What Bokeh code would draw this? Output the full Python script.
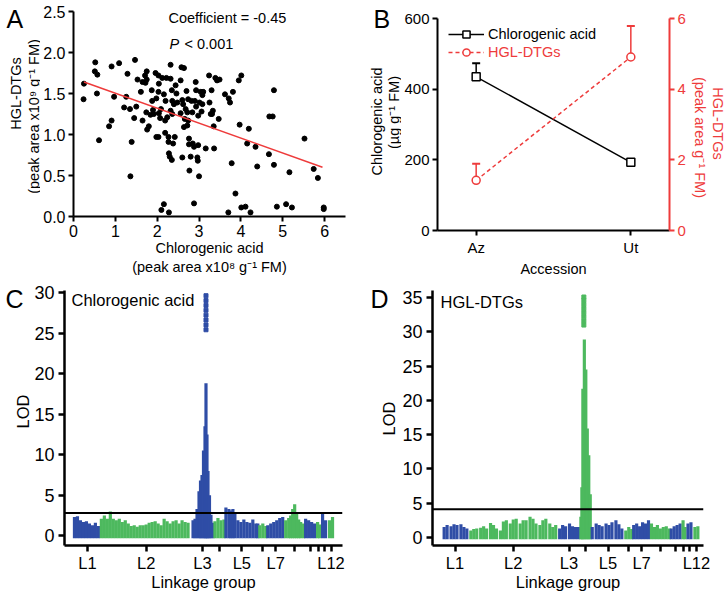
import math
import numpy as np
from bokeh.plotting import figure
from bokeh.models import (Range1d, LinearAxis, FixedTicker, Label, Span, Legend, LegendItem,
                          PrintfTickFormatter, CustomJSTickFormatter)
from bokeh.layouts import row, column
from bokeh.embed import file_html
from bokeh.resources import INLINE

FONT = "Liberation Sans"
BLUE = "#2F4DA6"
GREEN = "#4DB95E"
RED = "#EE3B3B"

# ---------------- Panel A data: scatter ----------------
chlorogenic_area = [
    0.25, 0.24, 0.52, 0.51, 0.57, 0.56, 0.61, 0.91, 0.85, 0.91,
    0.97, 1.09, 1.29, 1.26, 1.21, 1.35, 1.36, 1.39, 1.47, 1.45,
    1.50, 1.53, 1.61, 1.65, 1.65, 1.71, 1.72, 1.75, 1.75, 1.74,
    1.76, 1.80, 1.84, 1.87, 1.88, 1.90, 1.92, 1.96, 1.98, 1.98,
    2.03, 2.03, 2.04, 2.03, 2.04, 2.07, 2.09, 2.10, 2.16, 2.16,
    2.12, 2.20, 2.22, 2.19, 2.19, 2.24, 2.27, 2.27, 2.28, 2.30,
    2.28, 2.32, 2.32, 2.35, 2.36, 2.32, 2.36, 2.38, 2.35, 2.40,
    2.42, 2.44, 2.46, 2.48, 2.56, 2.56, 2.58, 2.60, 2.64, 2.60,
    2.62, 2.64, 2.66, 2.68, 2.70, 2.72, 2.74, 2.74, 2.72, 2.76,
    2.76, 2.77, 2.80, 2.82, 2.84, 2.85, 2.88, 2.88, 2.90, 2.92,
    2.93, 2.93, 2.96, 2.97, 2.98, 2.98, 3.00, 3.01, 3.04, 3.06,
    3.08, 3.08, 3.10, 3.16, 3.24, 3.25, 3.28, 3.31, 3.30, 3.33,
    3.35, 3.36, 3.39, 3.43, 3.47, 3.49, 3.62, 3.71, 3.74, 3.78,
    3.81, 3.70, 3.87, 3.95, 3.97, 4.01, 4.01, 4.11, 4.15, 4.19,
    4.23, 4.35, 4.39, 4.67, 4.68, 4.76, 4.79, 4.79, 4.86, 5.08,
    5.16, 5.22, 5.52, 5.74, 5.84, 5.98, 5.98]
hgl_dtg_area = [
    1.62, 1.43, 1.88, 1.77, 1.73, 1.50, 0.93, 1.83, 1.10, 1.17,
    1.46, 1.87, 1.74, 1.46, 1.33, 1.31, 0.49, 0.91, 1.91, 1.20,
    1.34, 1.67, 1.52, 1.64, 1.17, 1.72, 1.63, 1.67, 1.77, 1.27,
    1.06, 1.10, 1.24, 1.54, 1.41, 1.30, 1.25, 1.75, 1.44, 0.97,
    0.97, 1.72, 1.62, 1.52, 1.26, 1.20, 1.31, 0.08, 0.15, 1.49,
    1.69, 1.41, 1.69, 1.17, 1.02, 1.21, 0.97, 0.91, 0.77, 0.73,
    0.05, 1.85, 1.68, 1.54, 1.41, 1.29, 1.25, 0.89, 0.69, 1.37,
    0.97, 1.60, 1.50, 1.39, 1.66, 1.26, 1.82, 0.72, 1.81, 1.42,
    1.37, 1.09, 1.19, 1.31, 1.53, 1.27, 1.43, 1.17, 1.11, 0.95,
    0.88, 0.56, 0.73, 1.41, 1.27, 0.89, 0.85, 0.16, 1.41, 1.64,
    1.54, 1.34, 0.72, 0.68, 1.23, 0.87, 0.49, 1.39, 1.52, 1.28,
    1.48, 1.37, 1.52, 0.83, 1.72, 1.39, 1.25, 1.25, 1.54, 1.29,
    1.10, 0.83, 1.69, 1.66, 1.19, 1.67, 1.49, 1.44, 1.39, 0.65,
    1.52, 0.05, 0.28, 1.66, 1.12, 1.72, 0.11, 0.12, 0.89, 1.07,
    0.05, 0.85, 0.61, 0.76, 1.22, 1.22, 1.54, 0.63, 0.12, 0.15,
    0.54, 0.11, 0.95, 0.58, 0.47, 0.11, 0.09]
fit_x = [0.25, 5.95]
fit_y = [1.64, 0.60]
a_x_ticks = [0, 1, 2, 3, 4, 5, 6]
a_y_ticks = [0.0, 0.5, 1.0, 1.5, 2.0, 2.5]

# ---------------- Panel B data ----------------
accessions = ["Az", "Ut"]
chlorogenic_mean = [435, 193]
chlorogenic_se = [38, 5]
hgl_mean = [1.42, 4.91]
hgl_se = [0.47, 0.88]
b_left_ticks = [0, 200, 400, 600]
b_right_ticks = [0, 2, 4, 6]
legend_labels = ["Chlorogenic acid", "HGL-DTGs"]

# ---------------- Panels C/D data: QTL scans ----------------
lg_names = ["L1", "L2", "L3", "L4", "L5", "L6", "L7", "L8", "L9", "L10", "L11", "L12"]
lg_shown = ["L1", "L2", "L3", "L5", "L7", "L12"]
lg_bounds = [0, 28, 118, 141, 152, 186, 194, 212, 232, 243, 248, 255, 262]

qtl_c_pos = [1, 4, 7, 10, 13, 16, 19, 22, 25,
             28, 31, 34, 37, 40, 43, 46, 49, 52, 55, 58, 61, 64, 67, 70, 73, 76, 79, 82, 85,
             88, 91, 94, 97, 100, 103, 106, 109, 112, 115,
             120, 122, 124, 126, 127.5, 129, 130.5, 132, 133, 134, 135, 136.5, 138, 140,
             142, 145, 148, 151,
             153, 156, 158, 160, 162, 165, 168, 171, 174, 177, 180, 183, 185,
             187, 190, 193,
             195, 198, 201, 204, 207, 210,
             213, 216, 218, 220, 222, 224, 226, 228, 231,
             233, 236, 239, 242,
             245, 247,
             250, 253,
             257, 260]
qtl_c_lod = [2.3, 2.4, 1.9, 1.7, 1.8, 1.5, 1.3, 1.6, 1.2,
             2.1, 2.5, 2.1, 3.0, 2.1, 1.9, 2.1, 1.7, 1.9, 1.5, 1.2, 1.3, 1.1, 1.3, 1.3, 1.4, 1.6, 1.7, 1.8, 1.5,
             1.3, 2.1, 1.8, 1.5, 1.8, 1.9, 1.5, 1.9, 1.7, 1.6,
             1.9, 2.1, 3.3, 5.5, 6.8, 7.5, 10.5, 13.5, 18.8, 12.5, 8.0, 5.0, 2.6, 1.6,
             1.8, 2.2, 1.9, 2.0,
             3.5, 3.3, 3.1, 3.3, 2.7, 1.9, 1.7, 2.0, 1.7, 1.6, 2.0, 1.5, 1.5,
             1.3, 1.5, 1.2,
             1.3, 1.5, 1.7, 1.9, 2.2, 2.3,
             1.9, 2.2, 2.5, 3.3, 3.9, 2.7, 2.0, 1.7, 1.5,
             2.1, 1.9, 1.7, 1.5,
             1.7, 1.4,
             2.7, 1.9,
             1.9, 2.3]
qtl_c_peak_pos = 133
qtl_c_peak_lod = [25.4, 26.0, 26.6, 27.2, 27.8, 28.4, 29.0, 29.6]
lod_threshold_c = 2.8

qtl_d_pos = [3, 6, 10, 13, 16, 20, 23, 26,
             30, 33, 36, 40, 43, 46, 50, 53, 56, 60, 63, 66, 70, 73, 76, 80, 83, 86, 90,
             93, 96, 100, 103, 106, 110, 113, 116,
             120, 123, 126, 130, 133, 136, 139,
             141.5, 142.5, 143.5, 145, 146.5, 148, 149.5, 151,
             153, 157, 160, 163, 167, 170, 173, 177, 180, 183,
             187, 190, 193,
             195, 198, 201, 204, 207, 210,
             213, 216, 219, 222, 225, 228, 231,
             233, 236, 239, 242,
             245, 247,
             250, 253,
             257, 260]
qtl_d_lod = [1.5, 1.8, 1.6, 1.9, 1.8, 1.9, 1.5, 1.3,
             1.0, 1.2, 1.3, 1.4, 1.6, 1.3, 2.1, 1.8, 1.3, 1.0, 2.3, 2.5, 2.0, 2.6, 2.7, 2.0, 2.5, 2.5, 3.0,
             2.7, 2.0, 1.8, 2.5, 2.7, 2.0, 1.5, 1.8,
             1.3, 1.8, 1.6, 2.0, 1.6, 1.5, 1.5,
             3.0, 7.3, 21.7, 28.9, 24.5, 15.9, 12.0, 6.3,
             1.5, 2.0, 1.8, 1.6, 2.0, 1.8, 2.2, 2.5, 1.9, 1.3,
             1.0, 1.5, 1.2,
             1.8, 2.0, 1.6, 2.2, 2.0, 2.5,
             2.0, 1.5, 1.8, 1.3, 1.5, 1.6, 1.3,
             1.3, 1.6, 1.8, 2.0,
             2.5, 1.5,
             2.0, 2.2,
             1.5, 1.6]
qtl_d_peak_pos = 144.5
qtl_d_peak_lod = [31.0, 31.6, 32.2, 32.8, 33.4, 34.0, 34.6, 35.1]
lod_threshold_d = 4.1


# ---------------- helpers ----------------
def base_fig(w, h, frame_page, origin, xr, yr):
    L, T, R, B = frame_page
    ox, oy = origin
    left = L - ox
    top = T - oy
    right = w - left - (R - L)
    bottom = h - top - (B - T)
    p = figure(width=w, height=h, x_range=xr, y_range=yr, output_backend="svg",
               toolbar_location=None, min_border_left=left, min_border_right=right,
               min_border_top=top, min_border_bottom=bottom, frame_align=False)
    p.outline_line_color = None
    p.xgrid.grid_line_color = None
    p.ygrid.grid_line_color = None
    p.background_fill_color = "white"
    p.border_fill_color = "white"
    return p


def gutter(w, h):
    p = figure(width=w, height=h, x_range=Range1d(0, w), y_range=Range1d(0, h),
               output_backend="svg", toolbar_location=None, x_axis_type=None, y_axis_type=None,
               min_border=0, min_border_left=0, min_border_right=0, min_border_top=0,
               min_border_bottom=0, frame_align=False)
    p.outline_line_color = None
    p.xgrid.grid_line_color = None
    p.ygrid.grid_line_color = None
    p.background_fill_color = "white"
    p.border_fill_color = "white"
    return p


def glab(g, origin, px, py, text, size, align="center", angle=0.0, color="black", baseline="middle"):
    ox, oy = origin
    h = g.height
    g.add_layout(Label(x=px - ox, y=h - (py - oy), text=text, text_font=FONT,
                       text_font_size=size, text_align=align, text_baseline=baseline,
                       angle=angle, text_color=color))


def style_axis(ax, size, color="black", lw=2, tick_out=5, standoff=3):
    ax.axis_line_width = lw
    ax.axis_line_color = color
    ax.major_tick_line_width = lw
    ax.major_tick_line_color = color
    ax.major_tick_out = tick_out
    ax.major_tick_in = 0
    ax.minor_tick_line_color = None
    ax.major_label_text_font = FONT
    ax.major_label_text_font_size = size
    ax.major_label_text_color = color
    ax.major_label_standoff = standoff
    ax.axis_label_text_font = FONT
    ax.axis_label_text_font_style = "normal"
    ax.axis_label_text_color = color


def lab(p, frame_page, px, py, text, size, align="left", color="black", style="normal"):
    L, T, R, B = frame_page
    p.add_layout(Label(x=px - L, y=B - py, x_units="screen", y_units="screen", text=text,
                       text_font=FONT, text_font_size=size, text_align=align,
                       text_baseline="middle", text_color=color, text_font_style=style))


def lg_index(x):
    return int(np.searchsorted(lg_bounds, x, side="right") - 1)


def lg_color(x):
    return BLUE if lg_index(x) % 2 == 0 else GREEN


lg_centers = [(lg_bounds[i] + lg_bounds[i + 1]) / 2 for i in range(len(lg_names))]
lg_tick_text = [n if n in lg_shown else "" for n in lg_names]

H1 = 282
H2 = 311
HALF = math.pi / 2

# ---------------- Panel A ----------------
oA = (0, 0)
gA = gutter(40, H1)
glab(gA, oA, 6, 4, "A", "25px", align="left", baseline="top")
glab(gA, oA, 15, 93, "HGL-DTGs", "14.5px", angle=HALF)
glab(gA, oA, 33, 116, "(peak area x10⁹ g⁻¹ FM)", "14.5px", angle=HALF)

FA = (71, 11, 345, 216)
pA = base_fig(328, H1, FA, (40, 0), Range1d(0, 6.5), Range1d(0, 2.5))
pA.xaxis.ticker = FixedTicker(ticks=a_x_ticks)
pA.yaxis.ticker = FixedTicker(ticks=a_y_ticks)
pA.yaxis.formatter = PrintfTickFormatter(format="%.1f")
for ax in pA.axis:
    style_axis(ax, "16px")
pA.xaxis.axis_label = "Chlorogenic acid\n(peak area x10⁸ g⁻¹ FM)"
pA.xaxis.axis_label_text_font_size = "14.5px"
pA.xaxis.axis_label_standoff = 0
pA.xaxis.axis_label_text_line_height = 1.2
pA.scatter(chlorogenic_area, hgl_dtg_area, size=5, color="black")
pA.line(fit_x, fit_y, line_color=RED, line_width=1.5)
lab(pA, FA, 166, 17, "Coefficient = -0.45", "14.5px")
lab(pA, FA, 167, 43, "P", "14.5px", style="italic")
lab(pA, FA, 182, 43, "< 0.001", "14.5px")

# ---------------- Panel B ----------------
oB = (368, 0)
gB = gutter(33, H1)
glab(gB, oB, 373, 4, "B", "25px", align="left", baseline="top")
glab(gB, oB, 376, 121, "Chlorogenic acid", "14.5px", angle=HALF)
glab(gB, oB, 393, 112, "(µg g⁻¹ FM)", "14.5px", angle=HALF)

FB = (435, 18, 669, 230)
pB = base_fig(287, H1, FB, (401, 0), Range1d(-0.25, 1.25), Range1d(0, 600))
pB.extra_y_ranges = {"hgl": Range1d(0, 6)}
acc_x = list(range(len(accessions)))
pB.xaxis.ticker = FixedTicker(ticks=acc_x)
pB.xaxis.formatter = CustomJSTickFormatter(args=dict(names=accessions),
                                           code="return names[Math.round(tick)] || '';")
pB.yaxis.ticker = FixedTicker(ticks=b_left_ticks)
rax = LinearAxis(y_range_name="hgl", ticker=FixedTicker(ticks=b_right_ticks))
pB.add_layout(rax, "right")
for ax in pB.xaxis + pB.yaxis:
    style_axis(ax, "15px")
style_axis(rax, "15px", color=RED)
pB.xaxis.axis_label = "Accession"
pB.xaxis.axis_label_text_font_size = "14.5px"
pB.xaxis.axis_label_standoff = 2

chl_up = [m + s for m, s in zip(chlorogenic_mean, chlorogenic_se)]
hgl_up = [m + s for m, s in zip(hgl_mean, hgl_se)]
pB.segment(acc_x, hgl_mean, acc_x, hgl_up, line_color=RED, line_width=1.5, y_range_name="hgl")
pB.scatter(acc_x, hgl_up, marker="dash", size=8, line_color=RED, line_width=2, y_range_name="hgl")
pB.segment(acc_x, chlorogenic_mean, acc_x, chl_up, line_color="black", line_width=1.5)
pB.scatter(acc_x, chl_up, marker="dash", size=8, line_color="black", line_width=2)
l1 = pB.line(acc_x, chlorogenic_mean, line_color="black", line_width=1.5)
l2 = pB.line(acc_x, hgl_mean, line_color=RED, line_width=1.5, line_dash="4 3", y_range_name="hgl")
s1 = pB.scatter(acc_x, chlorogenic_mean, marker="square", size=8, fill_color="white",
                line_color="black", line_width=1.5)
s2 = pB.scatter(acc_x, hgl_mean, marker="circle", size=8, fill_color="white",
                line_color=RED, line_width=1.5, y_range_name="hgl")

for i, (lr, sr, col, cy) in enumerate([(l1, s1, "black", 34), (l2, s2, RED, 52)]):
    leg = Legend(items=[LegendItem(label=legend_labels[i], renderers=[lr, sr])],
                 location=(11, (FB[3] - cy) - 9), margin=0, padding=0, spacing=0,
                 glyph_width=36, glyph_height=18, label_height=18, label_standoff=4,
                 border_line_color=None, background_fill_alpha=0,
                 label_text_font=FONT, label_text_font_size="14.5px", label_text_color=col)
    pB.add_layout(leg)

oB2 = (688, 0)
gB2 = gutter(39, H1)
glab(gB2, oB2, 699, 137, "(peak area g⁻¹ FM)", "14.5px", angle=-HALF, color=RED)
glab(gB2, oB2, 717, 123, "HGL-DTGs", "14.5px", angle=-HALF, color=RED)


# ---------------- Panels C/D ----------------
def qtl_panel(frame, origin, w, xr, yr, yticks, pos, lod, peak_pos, peak_lod, thresh):
    p = base_fig(w, H2, frame, origin, xr, yr)
    colors = [lg_color(x) for x in pos]
    p.vbar(x=pos, top=lod, bottom=-0.3, width=3.2, fill_color=colors, line_color=None)
    p.scatter([peak_pos] * len(peak_lod), peak_lod, marker="square", size=4,
              color=lg_color(peak_pos))
    p.add_layout(Span(location=thresh, dimension="width", line_color="black", line_width=2))
    p.yaxis.ticker = FixedTicker(ticks=yticks)
    p.xaxis.ticker = FixedTicker(ticks=lg_centers)
    p.xaxis.formatter = CustomJSTickFormatter(
        args=dict(centers=lg_centers, names=lg_tick_text),
        code="const i = centers.findIndex(c => Math.abs(c - tick) < 0.01); return i >= 0 ? names[i] : '';")
    style_axis(p.yaxis[0], "18px", lw=2.5, tick_out=6, standoff=4)
    style_axis(p.xaxis[0], "16.5px", lw=2.5, tick_out=6, standoff=2)
    p.xaxis.axis_label = "Linkage group"
    p.xaxis.axis_label_text_font_size = "16.5px"
    p.xaxis.axis_label_standoff = -2
    return p


oC = (0, 282)
gC = gutter(31, H2)
glab(gC, oC, 5, 284, "C", "25px", align="left", baseline="top")
glab(gC, oC, 22, 411, "LOD", "16.5px", angle=HALF)
FC = (63, 290, 342, 549)
pC = qtl_panel(FC, (31, 282), 337, Range1d(-9, 270), Range1d(-1.2, 30.24),
               [0, 5, 10, 15, 20, 25, 30],
               qtl_c_pos, qtl_c_lod, qtl_c_peak_pos, qtl_c_peak_lod, lod_threshold_c)
lab(pC, FC, 70, 303, "Chlorogenic acid", "16.5px")

oD = (368, 282)
gD = gutter(31, H2)
glab(gD, oD, 370, 284, "D", "25px", align="left", baseline="top")
glab(gD, oD, 388, 418, "LOD", "16.5px", angle=HALF)
FD = (431, 290, 703, 549)
pD = qtl_panel(FD, (399, 282), 328, Range1d(-8.8, 265.7), Range1d(-1.2, 36.05),
               [0, 5, 10, 15, 20, 25, 30, 35],
               qtl_d_pos, qtl_d_lod, qtl_d_peak_pos, qtl_d_peak_lod, lod_threshold_d)
lab(pD, FD, 439, 305, "HGL-DTGs", "16.5px")

layout = column(row(gA, pA, gB, pB, gB2), row(gC, pC, gD, pD))
open("out.html", "w").write(file_html(layout, INLINE, "QTL figure"))
